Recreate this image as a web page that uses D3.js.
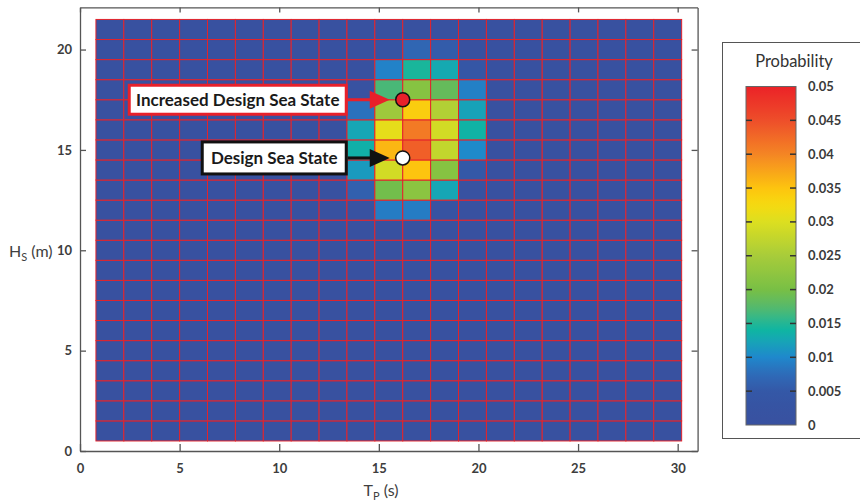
<!DOCTYPE html>
<html>
<head>
<meta charset="utf-8">
<script src="https://cdn.jsdelivr.net/npm/d3@7/dist/d3.min.js"></script>
<style>
  html, body { margin: 0; padding: 0; background: #fff; }
  svg { display: block; font-family: Lato, "Open Sans", "DejaVu Sans", sans-serif; }
</style>
</head>
<body>
<script>
// Peak period bin centres (s) and significant wave height bin centres (m)
const tpCenters = [1.5, 2.9, 4.3, 5.7, 7.1, 8.5, 9.9, 11.3, 12.7, 14.1, 15.5,
                   16.9, 18.3, 19.7, 21.1, 22.5, 23.9, 25.3, 26.7, 28.1, 29.5];
const hsCenters = [1, 2, 3, 4, 5, 6, 7, 8, 9, 10, 11, 12, 13, 14, 15, 16, 17, 18, 19, 20, 21];
const tpBinWidth = 1.4;
const hsBinWidth = 1;

// Probability of occurrence, one row per Hs bin (Hs = 1 ... 21), one column per Tp bin
const probability = [
  [0,0,0,0,0,0,0,0,0,0,0,0,0,0,0,0,0,0,0,0,0],
  [0,0,0,0,0,0,0,0,0,0,0,0,0,0,0,0,0,0,0,0,0],
  [0,0,0,0,0,0,0,0,0,0,0,0,0,0,0,0,0,0,0,0,0],
  [0,0,0,0,0,0,0,0,0,0,0,0,0,0,0,0,0,0,0,0,0],
  [0,0,0,0,0,0,0,0,0,0,0,0,0,0,0,0,0,0,0,0,0],
  [0,0,0,0,0,0,0,0,0,0,0,0,0,0,0,0,0,0,0,0,0],
  [0,0,0,0,0,0,0,0,0,0,0,0,0,0,0,0,0,0,0,0,0],
  [0,0,0,0,0,0,0,0,0,0,0,0,0,0,0,0,0,0,0,0,0],
  [0,0,0,0,0,0,0,0,0,0,0,0,0,0,0,0,0,0,0,0,0],
  [0,0,0,0,0,0,0,0,0,0,0,0,0,0,0,0,0,0,0,0,0],
  [0,0,0,0,0,0,0,0,0,0,0,0,0,0,0,0,0,0,0,0,0],
  [0,0,0,0,0,0,0,0,0,0.001,0.009,0.009,0.002,0,0,0,0,0,0,0,0],
  [0,0,0,0,0,0,0,0,0,0.006,0.0195,0.022,0.0125,0.001,0,0,0,0,0,0,0],
  [0,0,0,0,0,0,0,0,0,0.0115,0.029,0.035,0.0215,0.005,0,0,0,0,0,0,0],
  [0,0,0,0,0,0,0,0,0,0.0135,0.036,0.0435,0.0275,0.0102,0,0,0,0,0,0,0],
  [0,0,0,0,0,0,0,0,0,0.0125,0.031,0.041,0.029,0.0138,0,0,0,0,0,0,0],
  [0,0,0,0,0,0,0,0,0,0.008,0.024,0.034,0.026,0.0122,0,0,0,0,0,0,0],
  [0,0,0,0,0,0,0,0,0,0.001,0.0168,0.0215,0.0185,0.0093,0,0,0,0,0,0,0],
  [0,0,0,0,0,0,0,0,0,0,0.0095,0.0145,0.0128,0.0038,0,0,0,0,0,0,0],
  [0,0,0,0,0,0,0,0,0,0,0.003,0.0068,0.0055,0,0,0,0,0,0,0,0],
  [0,0,0,0,0,0,0,0,0,0,0,0,0,0,0,0,0,0,0,0,0]
];

// Axis ticks
const tpTicks = [0, 5, 10, 15, 20, 25, 30];
const hsTicks = [0, 5, 10, 15, 20];
const probTicks = [0, 0.005, 0.01, 0.015, 0.02, 0.025, 0.03, 0.035, 0.04, 0.045, 0.05];
const probTickLabels = ["0", "0.005", "0.01", "0.015", "0.02", "0.025", "0.03", "0.035", "0.04", "0.045", "0.05"];

// Highlighted sea states
const seaStateLabels = ["Increased Design Sea State", "Design Sea State"];
const seaStateTp = [16.2, 16.2];
const seaStateHs = [17.5, 14.6];

// Colour map (probability -> colour)
const cmapStops = [0, 0.0025, 0.005, 0.0075, 0.01, 0.0125, 0.014, 0.0155, 0.0175, 0.02,
                   0.025, 0.03, 0.0325, 0.035, 0.04, 0.045, 0.05];
const cmapColors = ["#3851a0", "#3753a2", "#3458a7", "#2e6bb8", "#1f88cc", "#16a6b5", "#0fb5a2",
                    "#2db78e", "#58b96a", "#78bf45", "#a8cc3a", "#dcdf20", "#f6da10", "#fdc40f",
                    "#f48524", "#ee4e2a", "#eb2227"];
const color = d3.scaleLinear().domain(cmapStops).range(cmapColors).interpolate(d3.interpolateRgb).clamp(true);

const W = 860, H = 504;
const svg = d3.select("body").append("svg").attr("width", W).attr("height", H);
svg.append("rect").attr("width", W).attr("height", H).attr("fill", "#fff");

const x = d3.scaleLinear().domain([0, 31]).range([80, 697.6]);
const y = d3.scaleLinear().domain([0, 22.1]).range([451, 7.4]);

// Heat map cells
const cells = [];
probability.forEach((row, i) => row.forEach((v, j) => cells.push({ tp: tpCenters[j], hs: hsCenters[i], v })));

svg.append("g").selectAll("rect").data(cells).join("rect")
  .attr("x", d => x(d.tp - tpBinWidth / 2))
  .attr("y", d => y(d.hs + hsBinWidth / 2))
  .attr("width", d => x(d.tp + tpBinWidth / 2) - x(d.tp - tpBinWidth / 2))
  .attr("height", d => y(d.hs - hsBinWidth / 2) - y(d.hs + hsBinWidth / 2))
  .attr("fill", d => color(d.v))
  .attr("stroke", "#e3232b")
  .attr("stroke-width", 1);

// Axes: box with inward ticks on all four sides
const axisColor = "#555";
function styleAxis(g) {
  g.selectAll(".domain").attr("stroke", axisColor).attr("stroke-width", 1.3);
  g.selectAll(".tick line").attr("stroke", axisColor).attr("stroke-width", 1.3);
  g.selectAll(".tick text")
    .attr("fill", "#3d3d3d").attr("font-size", 13).attr("font-weight", 700)
    .attr("font-family", "Lato, 'Open Sans', sans-serif");
}

svg.append("g").attr("transform", `translate(0,${y(0)})`)
  .call(d3.axisBottom(x).tickValues(tpTicks).tickSizeInner(-7).tickSizeOuter(0).tickPadding(13))
  .call(styleAxis);
svg.append("g").attr("transform", `translate(0,${y.range()[1]})`)
  .call(d3.axisTop(x).tickValues(tpTicks).tickSizeInner(-5).tickSizeOuter(0).tickFormat(""))
  .call(styleAxis);
svg.append("g").attr("transform", `translate(${x(0)},0)`)
  .call(d3.axisLeft(y).tickValues(hsTicks).tickSizeInner(-6).tickSizeOuter(0).tickPadding(8))
  .call(styleAxis);
svg.append("g").attr("transform", `translate(${x.range()[1]},0)`)
  .call(d3.axisRight(y).tickValues(hsTicks).tickSizeInner(-6).tickSizeOuter(0).tickFormat(""))
  .call(styleAxis);

// Axis titles
const hsTitle = svg.append("text").attr("x", 9).attr("y", 257)
  .attr("font-size", 16).attr("fill", "#404040");
hsTitle.append("tspan").text("H");
hsTitle.append("tspan").attr("font-size", 11).attr("dy", 4).text("S");
hsTitle.append("tspan").attr("dy", -4).text(" (m)");

const tpTitle = svg.append("text").attr("x", 381).attr("y", 496)
  .attr("text-anchor", "middle").attr("font-size", 16).attr("fill", "#404040");
tpTitle.append("tspan").text("T");
tpTitle.append("tspan").attr("font-size", 11).attr("dy", 4).text("P");
tpTitle.append("tspan").attr("dy", -4).text(" (s)");

// Sea state call-outs
const callout = [
  { stroke: "#e8202a", markerFill: "#e8202a", boxW: 220, boxH: 29 },
  { stroke: "#111111", markerFill: "#ffffff", boxW: 147, boxH: 32 }
];
const gAnn = svg.append("g");
seaStateLabels.forEach((label, i) => {
  const st = callout[i];
  const px = x(seaStateTp[i]), py = y(seaStateHs[i]);
  const boxRight = px - 55;
  const tipX = px - 13, baseX = px - 33;
  gAnn.append("line")
    .attr("x1", boxRight).attr("x2", baseX + 2).attr("y1", py).attr("y2", py)
    .attr("stroke", st.stroke).attr("stroke-width", 3);
  gAnn.append("path")
    .attr("d", `M${baseX},${py - 9}L${tipX},${py}L${baseX},${py + 9}Z`)
    .attr("fill", st.stroke);
  gAnn.append("rect")
    .attr("x", boxRight - st.boxW + 1.5).attr("y", py - st.boxH / 2)
    .attr("width", st.boxW - 3).attr("height", st.boxH)
    .attr("fill", "#fff").attr("stroke", st.stroke).attr("stroke-width", 3);
  gAnn.append("text")
    .attr("x", boxRight - st.boxW / 2).attr("y", py).attr("dy", "0.36em")
    .attr("text-anchor", "middle").attr("font-size", 17).attr("font-weight", 700)
    .attr("fill", "#1a1a1a").text(label);
  gAnn.append("circle")
    .attr("cx", px).attr("cy", py).attr("r", 7)
    .attr("fill", st.markerFill).attr("stroke", "#111").attr("stroke-width", 1.5);
});

// Colour bar legend
const gLeg = svg.append("g");
gLeg.append("rect").attr("x", 722.5).attr("y", 42.5).attr("width", 160).attr("height", 396)
  .attr("fill", "#fff").attr("stroke", "#555").attr("stroke-width", 1);
gLeg.append("text").attr("x", 794).attr("y", 67).attr("text-anchor", "middle")
  .attr("font-size", 16.5).attr("fill", "#333").text("Probability");

const cb = d3.scaleLinear().domain([0, 0.05]).range([425, 86.5]);
const cbX = 746, cbW = 50;
const grad = svg.append("defs").append("linearGradient").attr("id", "cbGrad")
  .attr("x1", 0).attr("y1", 1).attr("x2", 0).attr("y2", 0);
d3.range(0, 1.0001, 0.02).forEach(t => {
  grad.append("stop").attr("offset", t).attr("stop-color", color(t * 0.05));
});
gLeg.append("rect").attr("x", cbX).attr("y", cb(0.05)).attr("width", cbW).attr("height", cb(0) - cb(0.05))
  .attr("fill", "url(#cbGrad)").attr("stroke", "#666").attr("stroke-width", 1);
probTicks.forEach((t, i) => {
  if (t > 0 && t < 0.05) {
    gLeg.append("line").attr("x1", cbX).attr("x2", cbX + 6).attr("y1", cb(t)).attr("y2", cb(t))
      .attr("stroke", "#333").attr("stroke-width", 1.5);
    gLeg.append("line").attr("x1", cbX + cbW - 6).attr("x2", cbX + cbW).attr("y1", cb(t)).attr("y2", cb(t))
      .attr("stroke", "#333").attr("stroke-width", 1.5);
  }
  gLeg.append("text").attr("x", 808).attr("y", cb(t)).attr("dy", "0.35em")
    .attr("font-size", 13).attr("font-weight", 700).attr("fill", "#3a3a3a")
    .text(probTickLabels[i]);
});
</script>
</body>
</html>
